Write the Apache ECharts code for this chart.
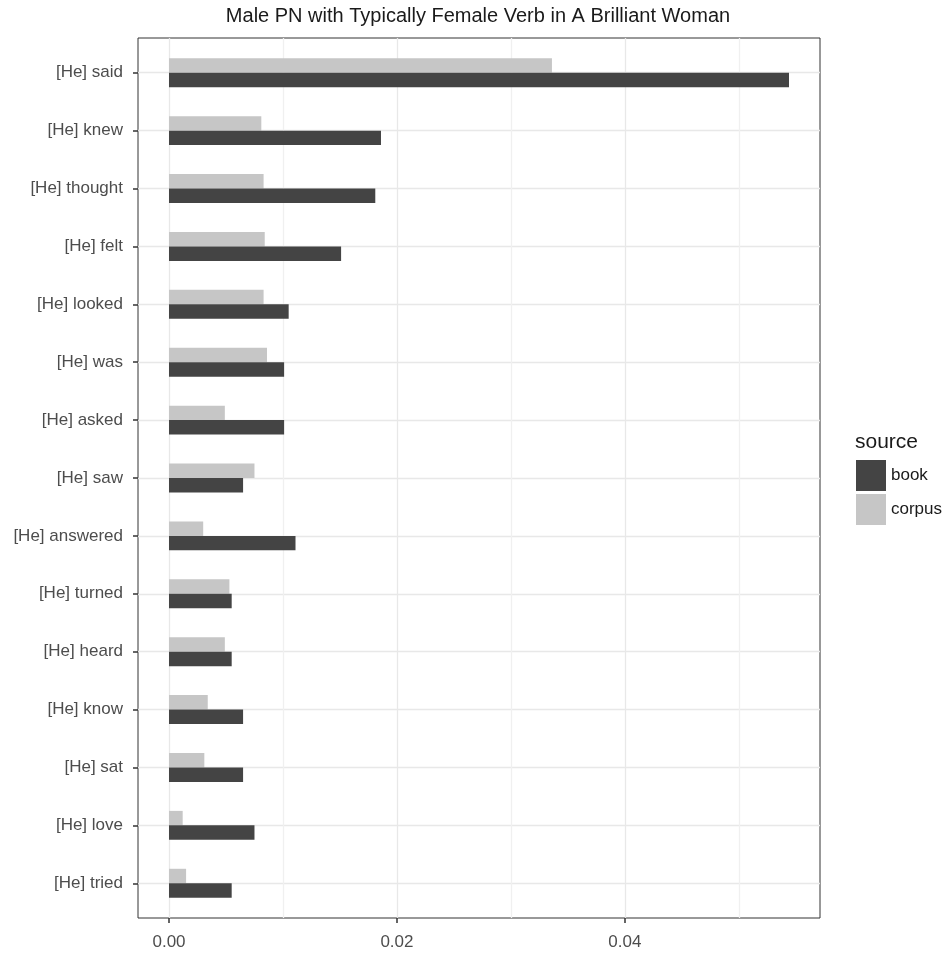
<!DOCTYPE html>
<html>
<head>
<meta charset="utf-8">
<script src="https://cdn.jsdelivr.net/npm/echarts@6/dist/echarts.min.js"></script>
<style>
  html, body { margin: 0; padding: 0; background: #fff; }
  #chart { width: 946px; height: 953px; }
</style>
</head>
<body>
<div id="chart"></div>
<script>
// Verbs following a male pronoun, relative frequency per source
const verbs = ['[He] said', '[He] knew', '[He] thought', '[He] felt', '[He] looked',
  '[He] was', '[He] asked', '[He] saw', '[He] answered', '[He] turned',
  '[He] heard', '[He] know', '[He] sat', '[He] love', '[He] tried'];
const book = [0.0544, 0.0186, 0.0181, 0.0151, 0.0105, 0.0101, 0.0101, 0.0065,
  0.0111, 0.0055, 0.0055, 0.0065, 0.0065, 0.0075, 0.0055];
const corpus = [0.0336, 0.0081, 0.0083, 0.0084, 0.0083, 0.0086, 0.0049, 0.0075,
  0.0030, 0.0053, 0.0049, 0.0034, 0.0031, 0.0012, 0.0015];
const xMajorTicks = [0, 0.02, 0.04];
const xMinorTicks = [0.01, 0.03, 0.05];

const FONT = "'Liberation Sans', Arial, Helvetica, sans-serif";

// value range padded by 5% on both sides, categories padded by 0.6 of a slot
const maxVal = Math.max(...book, ...corpus);
const pad = maxVal * 0.05;
const xMin = -pad, xMax = maxVal + pad;
const catPad = 0.6;

const panel = { left: 138, right: 126, top: 38, bottom: 35 };
const panelH = 953 - panel.top - panel.bottom;
const unit = panelH / (verbs.length - 1 + 2 * catPad);
const inset = (catPad - 0.5) * unit;

const chart = echarts.init(document.getElementById('chart'), null, { renderer: 'canvas' });

chart.setOption({
  backgroundColor: '#ffffff',
  animation: false,
  title: {
    text: 'Male PN with Typically Female Verb in A Brilliant Woman',
    left: 478, top: 6, textAlign: 'center', padding: 0,
    textStyle: { fontFamily: FONT, fontSize: 20, fontWeight: 'normal', color: '#1a1a1a' }
  },
  legend: {
    data: ['book', 'corpus'],
    orient: 'vertical', left: 856, top: 460,
    itemWidth: 30, itemHeight: 31, itemGap: 3, padding: 0,
    icon: 'rect',
    textStyle: { fontFamily: FONT, fontSize: 17, color: '#1a1a1a' },
    selectedMode: false
  },
  graphic: [{
    type: 'text', left: 855, top: 432,
    style: { text: 'source', font: '21px ' + FONT, fill: '#1a1a1a' }
  }],
  grid: [
    { left: panel.left, right: panel.right, top: panel.top, bottom: panel.bottom,
      show: true, borderColor: '#333333', borderWidth: 1, backgroundColor: '#ffffff' },
    { left: panel.left, right: panel.right, top: panel.top + inset, bottom: panel.bottom + inset }
  ],
  xAxis: [
    { type: 'value', gridIndex: 0, min: xMin, max: xMax, position: 'bottom',
      axisLine: { show: false, onZero: false },
      axisTick: { show: true, length: 5, lineStyle: { color: '#333333', width: 1.5 }, customValues: xMajorTicks },
      axisLabel: { customValues: xMajorTicks, margin: 16, fontFamily: FONT, fontSize: 17, color: '#4d4d4d',
        formatter: v => v.toFixed(2) },
      splitLine: { show: true, lineStyle: { color: '#e8e8e8', width: 1.3 } } },
    { type: 'value', gridIndex: 0, min: xMin, max: xMax,
      axisLine: { show: false, onZero: false },
      axisTick: { show: false, customValues: xMinorTicks },
      axisLabel: { show: false },
      splitLine: { show: true, lineStyle: { color: '#f0f0f0', width: 1.3 } } },
    { type: 'value', gridIndex: 1, min: xMin, max: xMax,
      axisLine: { show: false, onZero: false }, axisTick: { show: false }, axisLabel: { show: false },
      splitLine: { show: false } }
  ],
  yAxis: [
    { type: 'value', gridIndex: 0, inverse: true, position: 'left',
      min: -catPad, max: verbs.length - 1 + catPad,
      axisLine: { show: false, onZero: false },
      axisTick: { show: true, length: 5, lineStyle: { color: '#333333', width: 1.5 },
        customValues: verbs.map((_, i) => i) },
      axisLabel: { customValues: verbs.map((_, i) => i), margin: 15,
        fontFamily: FONT, fontSize: 17, color: '#4d4d4d',
        formatter: v => verbs[Math.round(v)] },
      splitLine: { show: true, lineStyle: { color: '#e8e8e8', width: 1.3 } } },
    { type: 'category', gridIndex: 1, inverse: true, data: verbs,
      axisLine: { show: false, onZero: false }, axisTick: { show: false }, axisLabel: { show: false },
      splitLine: { show: false } }
  ],
  series: [
    { name: 'corpus', type: 'bar', xAxisIndex: 2, yAxisIndex: 1, data: corpus,
      barWidth: unit * 0.25, barGap: '0%', itemStyle: { color: '#c6c6c6' } },
    { name: 'book', type: 'bar', xAxisIndex: 2, yAxisIndex: 1, data: book,
      barWidth: unit * 0.25, barGap: '0%', itemStyle: { color: '#444444' } }
  ]
});
</script>
</body>
</html>
